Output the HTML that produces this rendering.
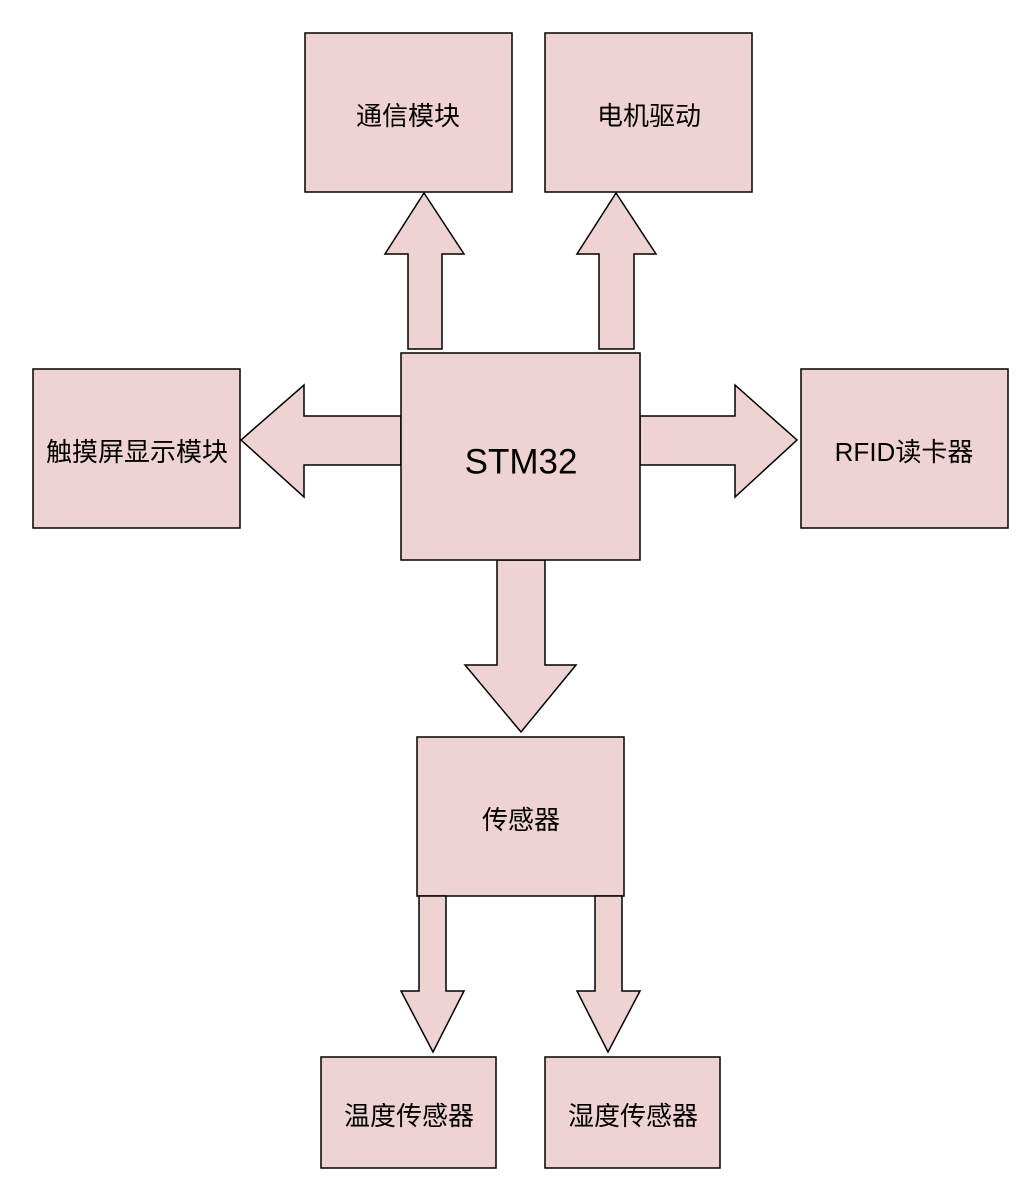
<!DOCTYPE html>
<html><head><meta charset="utf-8"><style>
html,body{margin:0;padding:0;background:#fff;}
svg{display:block;}
text{font-family:"Liberation Sans","Noto Sans CJK SC",sans-serif;fill:#000;text-anchor:middle;dominant-baseline:central;}
</style></head><body>
<svg width="1026" height="1186" viewBox="0 0 1026 1186" xmlns="http://www.w3.org/2000/svg">
<g fill="#efd3d3" stroke="#000" stroke-width="1.5" stroke-linejoin="miter">
<rect x="305" y="33" width="207" height="159"/>
<rect x="545" y="33" width="207" height="159"/>
<rect x="33" y="369" width="207" height="159"/>
<rect x="801" y="369" width="207" height="159"/>
<rect x="417" y="737" width="207" height="159"/>
<rect x="321" y="1057" width="175" height="111"/>
<rect x="545" y="1057" width="175" height="111"/>
<polygon points="408,349 408,254 385,254 424,193 464,254 442,254 442,349"/>
<polygon points="599,349 599,254 577,254 616,193 656,254 634,254 634,349"/>
<polygon points="401,416 304,416 304,385 241,440 304,497 304,465 401,465"/>
<polygon points="640,416 735,416 735,385 797,440 735,497 735,465 640,465"/>
<polygon points="497,560 497,665 465,665 521,732 576,665 545,665 545,560"/>
<polygon points="419,896 419,991 401,991 433,1052 464,991 446,991 446,896"/>
<polygon points="595,896 595,991 577,991 608,1052 640,991 622,991 622,896"/>
<rect x="401" y="353" width="239" height="207"/>
</g>
<text x="408" y="116" font-size="26">通信模块</text>
<text x="649" y="116" font-size="26">电机驱动</text>
<text x="137" y="452" font-size="26">触摸屏显示模块</text>
<text x="904" y="452" font-size="26">RFID读卡器</text>
<text x="521" y="462" font-size="35">STM32</text>
<text x="521" y="820" font-size="26">传感器</text>
<text x="409" y="1116" font-size="26">温度传感器</text>
<text x="633" y="1116" font-size="26">湿度传感器</text>
</svg>
</body></html>
